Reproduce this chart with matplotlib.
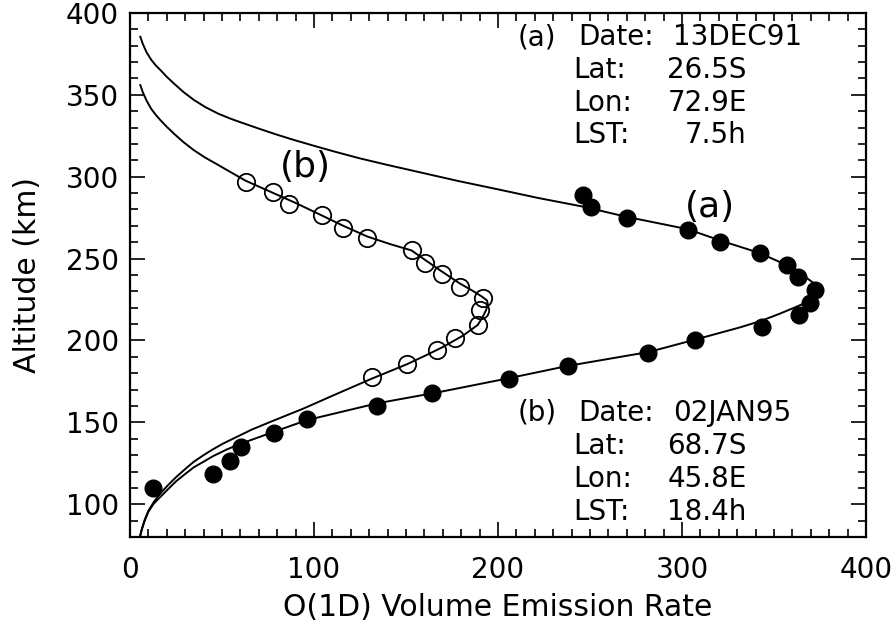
import numpy as np
import matplotlib
matplotlib.use("Agg")
import matplotlib.pyplot as plt

plt.rcParams['font.family'] = ['DejaVu Sans']

# (a) 13DEC91 measured points (filled) and fit curve
a_rate = [12.5, 45, 54.2, 60.5, 78.5, 96.3, 134.3, 164.3, 206.2, 238.2, 281.7, 307,
          343.3, 363.5, 369.6, 372.5, 363.2, 356.9, 342.2, 320.7, 303.4, 269.9, 250.5, 246]
a_alt = [109.7, 118.2, 126.5, 135.2, 143.5, 152, 160, 168, 176.2, 184.4, 192.5, 200.2,
         208, 215.5, 222.8, 231, 238.5, 246, 253.2, 260.3, 267.4, 274.6, 281.7, 288.8]

a_fit_rate = [5.6, 7, 9, 11.5, 14, 16.5, 20, 24, 29, 34.6, 41, 48, 55, 61.8, 70, 79, 89,
              100, 112, 125, 140, 158, 178, 200, 222, 246, 270, 303, 321, 342, 356, 365,
              371, 374.5, 375.5, 374, 369, 362, 353, 343, 331.5, 307, 282, 238, 206, 168,
              134.2, 110, 96.2, 78.1, 60, 52.7, 45, 40, 34.6, 30, 25, 20.5, 16.5, 13, 10,
              8, 6.5, 5.6]
a_fit_alt = [385.5, 381, 376, 371.5, 368, 365.2, 361, 356.8, 351.8, 347, 342.5, 338.5,
             335.3, 332.6, 329.4, 326, 322.5, 318.9, 315.1, 311.2, 307.2, 302.6, 297.5,
             292.3, 287, 281.8, 275.5, 268, 261, 253.5, 246.5, 240.5, 235.5, 233, 231,
             228, 224, 220.5, 216.3, 212, 208, 200.5, 193, 184.5, 177, 168.5, 161.6, 155.1,
             151.4, 144.2, 136.9, 133.5, 129.3, 126, 122.5, 118.5, 114, 109, 104.5, 100.5,
             95.5, 90, 85, 81]

# (b) 02JAN95 measured points (open) and fit curve
b_rate = [63, 77.9, 86.6, 104.2, 115.9, 128.6, 153.1, 160.3, 169.4, 179.3, 192, 190.2,
          189.3, 176.6, 166.7, 150.4, 131.3]
b_alt = [297, 290.5, 283.3, 276.6, 269, 262.4, 255.2, 247.5, 240.5, 232.8, 225.7, 218.6,
         209.4, 201.3, 194.1, 185.5, 177.5]

b_fit_rate = [5.6, 7, 9, 11.5, 14, 16.5, 20, 24, 29, 34.6, 41, 47, 52.7, 58, 63, 70, 78,
              90, 104, 116, 129, 141, 153, 160, 169, 179, 186, 191, 194, 194.5, 193.5,
              191.5, 189, 181, 170, 160, 150.5, 131, 110.5, 94.4, 76.3, 66, 56.3, 50.5, 45,
              40, 34.6, 30, 25, 20.5, 16.5, 13, 10, 8, 6.5, 5.6]
b_fit_alt = [356, 351.5, 346.5, 341.5, 337.8, 334.6, 330.5, 326.2, 321.2, 316.3, 311.6,
             307.8, 304.1, 300.7, 297.5, 294, 290, 284, 276.5, 270, 263.5, 259, 255, 249.5,
             242.5, 235, 230.5, 227, 224.5, 222, 218.5, 214, 209.5, 203, 196, 190.5, 185.5,
             176.5, 166.5, 158.5, 150.3, 145.5, 140.2, 137, 133.5, 130, 125.9, 121.5, 116.5,
             111.5, 106.6, 101.5, 96, 90.5, 85, 81]

info_a = [("Lat:", "26.5S"), ("Lon:", "72.9E"), ("LST:", "7.5h")]
info_b = [("Lat:", "68.7S"), ("Lon:", "45.8E"), ("LST:", "18.4h")]

fs = 20

fig = plt.figure(figsize=(8.96, 6.29), dpi=100)
ax = fig.add_axes([130 / 896, 1 - 537 / 629, 736 / 896, 524 / 629])

ax.plot(a_fit_rate, a_fit_alt, color='black', lw=1.4)
ax.plot(b_fit_rate, b_fit_alt, color='black', lw=1.4)
ax.plot(a_rate, a_alt, 'o', color='black', ms=12, zorder=3)
ax.plot(b_rate, b_alt, 'o', mfc='none', mec='black', mew=1.3, ms=12.5, zorder=3)

ax.set_xlim(0, 400)
ax.set_ylim(80, 400)
ax.set_xticks([0, 100, 200, 300, 400])
ax.set_yticks([100, 150, 200, 250, 300, 350, 400])
ax.set_xticks(np.arange(0, 401, 10), minor=True)
ax.set_yticks(np.arange(80, 401, 10), minor=True)
ax.tick_params(which='both', direction='in', top=True, right=True, width=1.2,
               labelsize=fs)
ax.tick_params(which='major', length=11)
ax.tick_params(which='minor', length=5.5)
ax.tick_params(axis='x', pad=14)
ax.tick_params(axis='y', pad=8)
for s in ax.spines.values():
    s.set_linewidth(1.6)

fig.text(498 / 896, 1 - 607 / 629, "O(1D) Volume Emission Rate", ha='center',
         va='center', fontsize=21.5)
fig.text(27 / 896, 1 - 275 / 629, "Altitude (km)", ha='center', va='center',
         rotation=90, fontsize=21.5)

# curve labels
ax.text(0.788, 0.630, "(a)", transform=ax.transAxes, ha='center', va='center', fontsize=26)
ax.text(0.238, 0.706, "(b)", transform=ax.transAxes, ha='center', va='center', fontsize=26)

# info blocks
def info_block(tag, date, rows, y0, dy):
    ax.text(0.527, y0, tag, transform=ax.transAxes, va='center', fontsize=fs)
    ax.text(0.609, y0, "Date:", transform=ax.transAxes, va='center', fontsize=fs)
    ax.text(0.738, y0, date, transform=ax.transAxes, va='center', fontsize=fs)
    for i, (k, v) in enumerate(rows):
        y = y0 - dy * (i + 1)
        ax.text(0.602, y, k, transform=ax.transAxes, va='center', fontsize=fs)
        ax.text(0.838, y, v, transform=ax.transAxes, va='center', ha='right', fontsize=fs)

info_block("(a)", "13DEC91", info_a, 0.954, 0.0625)
info_block("(b)", "02JAN95", info_b, 0.237, 0.063)

fig.savefig("out.png", dpi=100)
